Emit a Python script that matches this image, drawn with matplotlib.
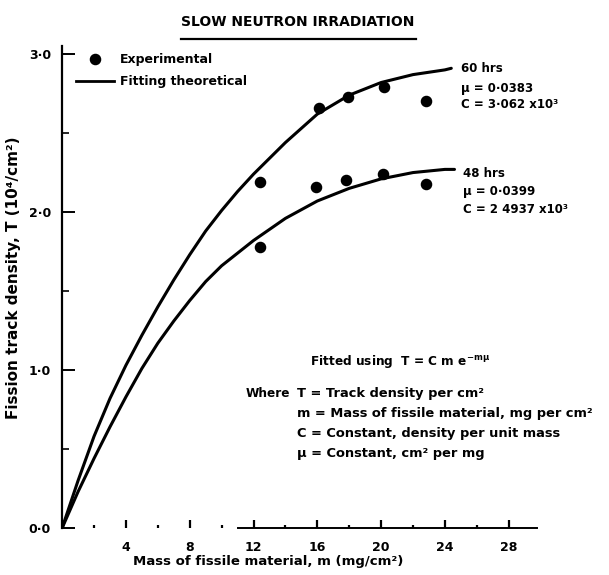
import matplotlib
matplotlib.use("Agg")
import matplotlib.pyplot as plt
from matplotlib.lines import Line2D

plt.rcParams['font.family'] = ['DejaVu Sans']
plt.rcParams['font.weight'] = 'bold'
plt.rcParams['mathtext.default'] = 'bf'

# Punkty doswiadczalne (masa mg/cm2, gestosc sladow 10^4/cm2)
m_60h = [12.4, 16.1, 17.9, 20.2, 22.8]
T_60h = [2.19, 2.66, 2.73, 2.79, 2.70]
m_48h = [12.4, 15.9, 17.8, 20.1, 22.8]
T_48h = [1.78, 2.16, 2.20, 2.24, 2.18]

# Krzywe dopasowania
m_fit_60 = [0, 1, 2, 3, 4, 5, 6, 7, 8, 9, 10, 11, 12, 13, 14, 16, 18, 20, 22, 24, 24.4]
T_fit_60 = [0, 0.30, 0.58, 0.82, 1.03, 1.22, 1.40, 1.57, 1.73, 1.88, 2.01, 2.13, 2.24,
            2.34, 2.44, 2.62, 2.74, 2.82, 2.87, 2.90, 2.91]
m_fit_48 = [0, 1, 2, 3, 4, 5, 6, 7, 8, 9, 10, 11, 12, 13, 14, 16, 18, 20, 22, 24, 24.6]
T_fit_48 = [0, 0.23, 0.44, 0.64, 0.83, 1.01, 1.17, 1.31, 1.44, 1.56, 1.66, 1.74, 1.82,
            1.89, 1.96, 2.07, 2.15, 2.21, 2.25, 2.27, 2.27]

x_ticks = [4, 8, 12, 16, 20, 24, 28]
x_minor = [2, 6, 10, 14, 18, 22, 26]
y_ticks = [0, 1, 2, 3]
y_tick_labels = ['0·0', '1·0', '2·0', '3·0']

labels_60 = ['60 hrs', 'μ = 0·0383', 'C = 3·062 x10³']
labels_48 = ['48 hrs', 'μ = 0·0399', 'C = 2 4937 x10³']

fig = plt.figure(figsize=(6.09, 5.75), dpi=100)
ax = fig.add_axes([0.102, 0.0817, 0.7857, 0.838])

ax.plot(m_fit_60, T_fit_60, color='black', lw=2.2, solid_capstyle='round', solid_joinstyle='round')
ax.plot(m_fit_48, T_fit_48, color='black', lw=2.2, solid_capstyle='round', solid_joinstyle='round')
ax.plot(m_60h, T_60h, 'o', color='black', ms=7.3)
ax.plot(m_48h, T_48h, 'o', color='black', ms=7.3)

ax.set_xlim(0, 30)
ax.set_ylim(0, 3.05)

# osie
ax.spines['top'].set_visible(False)
ax.spines['right'].set_visible(False)
ax.spines['left'].set_linewidth(1.6)
ax.spines['bottom'].set_linewidth(1.4)
ax.spines['bottom'].set_bounds(11, 29.8)

ax.set_xticks(x_ticks)
ax.set_xticks(x_minor, minor=True)
ax.set_xticklabels([str(t) for t in x_ticks])
ax.set_yticks(y_ticks)
ax.set_yticks([0.5, 1.5, 2.5], minor=True)
ax.set_yticklabels(y_tick_labels)
ax.tick_params(axis='x', which='major', direction='in', length=6, width=1.6, pad=9, labelsize=9)
ax.tick_params(axis='x', which='minor', direction='in', length=2.5, width=1.6)
ax.tick_params(axis='y', which='major', direction='in', length=9, width=1.4, pad=8, labelsize=9)
ax.tick_params(axis='y', which='minor', direction='in', length=5, width=1.2)

ax.set_xlabel('Mass of fissile material, m (mg/cm²)', fontsize=9.5, fontweight='bold')
ax.xaxis.set_label_coords(0.43, -0.057)
ax.set_ylabel('Fission track density, T (10⁴/cm²)', fontsize=11, fontweight='bold')
ax.yaxis.set_label_coords(-0.085, 0.52)

# legenda
handles = [Line2D([], [], marker='o', color='black', ls='none', ms=7.3),
           Line2D([], [], color='black', lw=2.0)]
ax.legend(handles, ['Experimental', 'Fitting theoretical'], loc='upper left',
          bbox_to_anchor=(0.03, 0.985), frameon=False, fontsize=9,
          handlelength=3.0, handletextpad=0.5, labelspacing=0.7,
          borderpad=0, borderaxespad=0)

# opisy krzywych
for i, txt in enumerate(labels_60):
    ax.annotate(txt, xy=(m_fit_60[-1], T_fit_60[-1]), xytext=(7, [0, -14.5, -26][i]),
                textcoords='offset points', va='center', ha='left', fontsize=8.5)
for i, txt in enumerate(labels_48):
    ax.annotate(txt, xy=(m_fit_48[-1], T_fit_48[-1]), xytext=(6, -3 - 13 * i),
                textcoords='offset points', va='center', ha='left', fontsize=8.5)

# wzor dopasowania
ax.text(0.519, 0.346, r'Fitted using  T = C m e$^{-m\mu}$', transform=ax.transAxes,
        fontsize=8.7, va='center', ha='left')
ax.text(0.476, 0.280, 'Where', transform=ax.transAxes, fontsize=8.7, va='center', ha='right')
opis = ['T = Track density per cm²',
        'm = Mass of fissile material, mg per cm²',
        'C = Constant, density per unit mass',
        'μ = Constant, cm² per mg']
for i, txt in enumerate(opis):
    ax.text(0.49, 0.280 - 0.0415 * i, txt, transform=ax.transAxes,
            fontsize=9.4, va='center', ha='left')

fig.text(0.489, 0.962, 'SLOW NEUTRON IRRADIATION', fontsize=10, fontweight='bold',
         ha='center', va='center')
fig.add_artist(Line2D([0.297, 0.683], [0.933, 0.933], color='black', lw=1.6,
                      transform=fig.transFigure))

fig.savefig('out.png', dpi=100)
